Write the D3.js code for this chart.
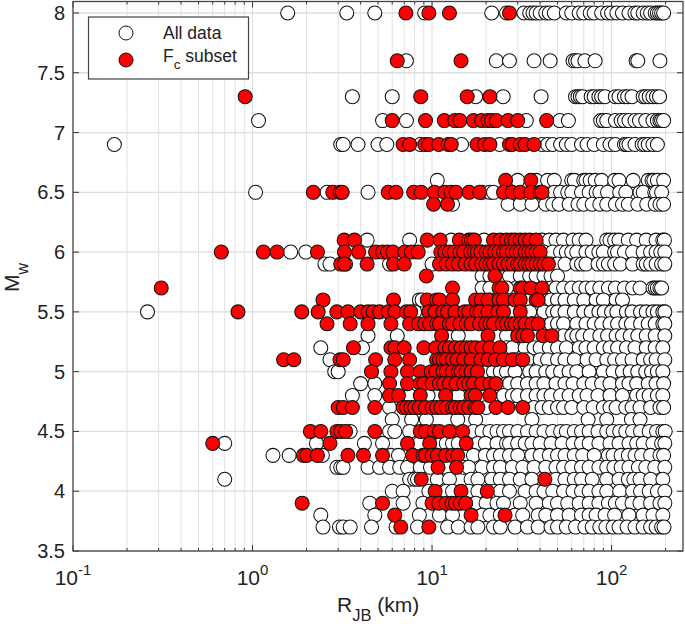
<!DOCTYPE html>
<html><head><meta charset="utf-8">
<script src="https://cdn.jsdelivr.net/npm/d3@7"></script>
<style>html,body{margin:0;padding:0;background:#fff}svg{display:block}text{font-family:"Liberation Sans",Arial,sans-serif;fill:#222}</style>
</head><body><svg id="c" width="685" height="624"></svg>
<script>
const magnitudes=[8,7.6,7.3,7.1,6.9,6.6,6.5,6.4,6.1,6,5.9,5.8,5.7,5.6,5.5,5.4,5.3,5.2,5.1,5,4.9,4.8,4.7,4.6,4.5,4.4,4.3,4.2,4.1,4,3.9,3.8,3.7];
const fcRjb=[
[7.15,9.6,12.5,27],
[6.4,14.5],
[.91,8.65,15.7,21],
[6,9.2,11.7,13.4,14.3,17,18.9,20.5,21.4,22.8,26.5,30,43.5],
[6.9,7.5,9.1,9.6,10.9,12.3,12.8,17.8,19.6,21,27,28,31,33,37],
[25.7,35.5],
[2.18,2.8,3.07,3.16,5.7,6.3,7.9,8.7,10.3,11.8,12.8,13.6,16.1,18.4,25,28,31,35.5,40,41],
[10.2,12.2],
[3.24,3.7,9.4,11.1,14.2,16,16.6,17.2,22,24,26,27.7,29,31,33,35,38],
[.67,1.15,1.37,2.3,3.25,3.9,4.85,5.3,5.65,6.05,7.05,7.67,8.37,11.2,11.8,12.5,13.3,14.3,15,16.4,17.2,17.9,18.7,20,21,22.3,23.5,25,26,28,29.5,31,33,34.5,36,38,40],
[3.1,3.25,4.35,6.1,7,11,12,13,14,15.3,16.5,17.5,18.9,20,21,22,23.6,25,26.5,28,30,31,33,34.5,36,38,40,42,44.5],
[9.3,22.4],
[.31,13,23.6,24.5,31,32,35.5,41],
[2.47,6.1,9.4,10.6,11,13,17.5,18.8,20.5,23.6,25,29,31,38,39],
[.83,1.88,2.32,2.95,3.4,4,4.4,4.7,5.1,5.7,6.2,7.2,7.6,9.6,10.4,11.5,12.2,13.4,15.2,16,17.7,18.5,20.5,23.3,25,31],
[2.6,3.5,4.4,5.9,7.5,8.4,9.1,9.7,10.6,11,12.5,13,14.3,15.5,16.5,18.4,19.9,21,22,24.6,26,27.7,29,31,33,36,39],
[11.3,20.5,30,32,34,41.5,46.5],
[3.65,5.9,6.2,7,9,10.5,11.8,12.5,13.5,14.5,15.5,16.5,17.5,19,21,23.9],
[1.49,1.7,3.07,3.2,4.85,6.2,7.5,10.6,11,11.5,12,13,13.8,15,16.5,18.7,20.5,22.6,25,28,32],
[4.6,5.9,7.3,8.6,9.9,10.5,11.5,12,13,14,14.5,15.5,16.5,17.9],
[5.8,7.3,8.6,9,10,11,11.6,12.5,13.6,15,16,17,18.9,21,22.7],
[5.8,6.5,8.6,11.9,16.5,17.4,21],
[3,3.2,3.6,4.8,6.9,7.2,7.6,8,8.5,9.2,10,10.6,11.2,12,13,13.5,14.3,15,16,17.4,18,22.7,26.5,32],
[],
[2.1,2.4,2.95,3.1,3.3,4.8,8.6,9.2,10.3,11,12.5,14.8],
[.6,2.7,7.3,9.7,15.5],
[1.92,2,2.3,3.4,4.15,5.3,7.8,8.9,9.2,10,10.7,11.9,13,13.9],
[10.8,13.7],
[8.7,42.5],
[10.4,14.5,20.3],
[1.89,5.3,10,10.9,12,12.9,13.5,14.4,15.4],
[6.2,16.5,25.5],
[6.7,9.6]
];
const otherRjb=[
[1.57,3.35,4.8,9.1,21.5,26,32.5,35,36.5,38,40,43,45,48,56,60,66,70,76,80,88,95,100,107,115,125,135,140,150,158,165,175,180,185,190,195],
[7.2,22.8,27,37,45.5,61,63,65,71,81,137,140,186],
[3.6,6,17.5,24.9,40.5,63,65,67,69,77,80,85,88,92,105,110,118,123,130,150,155,162,170,178,185],
[1.08,5.3,7.2,33.5,51.5,57.5,87,90,94,105,113,118,125,135,143,155,170,180,186,190,195],
[.17,3.1,3.2,3.87,5,5.6,8.6,14.6,23.8,41,44,47,52,56,60,68,73,80,90,98,105,118,121,125,135,148,153,160,170,180],
[10.7,30,38,44,48,60,62,70,72,76,81,88,104,110,132,160,168,172,180,195],
[1.04,2.6,4.4,19,21,22,48,52,57,60,68,75,82,86,95,111,120,144,150,174,178,190],
[13,26.5,31,36,43,47,51,58,65,70,78,86,94,105,115,124,140,157,175,186,195],
[4.35,7.5,12.8,19.5,41,45,49,54,61,66,72,94,98,104,110,124,138,156,177,193,197],
[1.63,1.98,19,42,47,52,56,60,64,72,78,85,90,104,108,118,131,150,165,177,188,198],
[2.53,2.7,3.3,5.8,10,46,50,55,64,68,72,84,90,96,104,112,131,150,156,165,177,190,198],
[19,21,24,27,31,35,38,42,46,50],
[19,21,26,46,49,54,60,66,72,78,86,96,105,118,131,144,170,175,180,186,190],
[8.5,8.8,21,26,35,42,46,50,55,62,70,82,90,106,115],
[.26,8,27.5,35,42,47,50,55,62,70,77,85,91,100,107,121,130,145,156,170,180,193,198],
[33,36,46,50,54,64,72,80,88,98,108,120,129,145,160,175,193,198],
[4.4,6.4,14,26,38,50,54,60,64,69,76,86,95,106,115,127,140,156,175,198],
[2.4,4.1,26,28,33,37,40,45,50,56,66,72,80,90,98,108,121,135,156,175,193],
[2.7,16,17,20,29,34,40,44,50,55,62,73,82,94,104,115,130,150,165,177,198],
[2.87,3,20,22,24,26,29,35,38,43,47,52,58,64,75,90,102,115,127,140,155,167,180,193],
[4,4.8,26,27,30,34,38,42,49,55,61,70,78,88,98,115,125,138,160,177,195],
[3.6,4.8,7.5,9.5,14,23,25,28,30,34,38,42,46,52,58,66,73,84,98,115,138,150,162,180,193],
[5.8,20,37,41,45,50,54,60,70,79,90,98,106,120,130,144,165,186,195],
[6,7.7,9.3,13.9,17.5,36,74,94,129,144],
[3.5,5.8,6.2,7.5,17,19,21,23,25,27,30,34,38,42,47,52,56,62,68,75,84,94,102,111,120,131,145,162,178,193,199],
[.7,2.27,4.2,5.3,8.5,10.5,11.3,12,13,14,18,19.8,23,26,27,30,33,36,40,46,53,61,68,75,85,98,110,125,138,150,170,190,198],
[1.3,1.6,2.45,5.9,6.5,15.5,17,19.8,22,24,27,30,36,40,45,50,55,62,69,80,96,102,113,124,135,147,165,186,195],
[2.95,3.1,3.2,4.4,5.1,5.8,6.6,7.3,8.6,9.8,12,15,16,19,22,24,28,32,37,43,49,54,60,68,75,85,94,103,113,125,141,155,174,198],
[.7,7.5,8,8.3,10.7,12.5,16.5,18,21.5,24,27,31,36,49,55,62,68,78,94,110,124,133,144,165,193],
[6,6.9,9.6,12,13,16,18,22,24,27,33,38,42,47,54,61,68,75,85,94,111,131,145,162,180,198],
[4.5,6.9,8.9,14,17.5,20,23,25,31,38,45,50,57,66,75,85,96,105,115,130,144,165,186,198],
[2.4,4.8,8.5,11,13,19,21,24,29,32,39,43,50,58,68,75,82,92,104,125,150,170,193],
[2.47,3.05,3.2,3.5,4.6,6.3,8.3,12.2,14,16.5,18,22,24,29,34,39,46,50,56,63,71,78,86,93,102,110,122,135,150,165,177,190,196]
];
const yTickValues=[3.5,4,4.5,5,5.5,6,6.5,7,7.5,8];
const xDecades=[0.1,1,10,100];
const legendLabels=["All data","F","c"," subset"];

const L=73,R=683,T=1.5,B=551;
const x=d3.scaleLog().domain([0.1,250]).range([L,R]);
const y=d3.scaleLinear().domain([3.5,8.096]).range([B,T]);
const svg=d3.select("#c");
const xMinor=x.ticks().filter(t=>!xDecades.some(d=>Math.abs(d-t)<1e-9));

svg.append("g").selectAll("line").data(xMinor).join("line")
 .attr("x1",x).attr("x2",x).attr("y1",T).attr("y2",B)
 .attr("stroke","#c4c4c4").attr("stroke-width",1).attr("stroke-dasharray","1 1");
svg.append("g").selectAll("line").data(xDecades.slice(1)).join("line")
 .attr("x1",x).attr("x2",x).attr("y1",T).attr("y2",B)
 .attr("stroke","#dcdcdc").attr("stroke-width",1);
svg.append("g").selectAll("line").data(yTickValues).join("line")
 .attr("x1",L).attr("x2",R).attr("y1",y).attr("y2",y)
 .attr("stroke","#dedede").attr("stroke-width",1.3);

const rows=magnitudes.map((m,i)=>({m,i}));
const draw=(src,fill)=>svg.append("g").selectAll("g").data(rows).join("g")
 .selectAll("circle").data(r=>src[r.i].map(v=>({v,m:r.m}))).join("circle")
 .attr("cx",d=>x(d.v)).attr("cy",d=>y(d.m)).attr("r",7)
 .attr("fill",fill).attr("stroke","#111").attr("stroke-width",1.05);
draw(otherRjb,"#fff");
draw(fcRjb,"#f00");

const fr=svg.append("g");
const tick=(g,a,b,c,d)=>g.append("line").attr("x1",a).attr("y1",b).attr("x2",c).attr("y2",d).attr("stroke","#333").attr("stroke-width",1);
x.ticks().forEach(t=>{const major=xDecades.some(d=>Math.abs(d-t)<1e-9),l=major?6:3,p=x(t);tick(fr,p,B,p,B-l);tick(fr,p,T,p,T+l);});
yTickValues.forEach(t=>{const p=y(t);tick(fr,L,p,L+6,p);tick(fr,R,p,R-6,p);});
fr.append("rect").attr("x",L).attr("y",T).attr("width",R-L).attr("height",B-T).attr("fill","none").attr("stroke","#444").attr("stroke-width",1.3);

svg.append("g").selectAll("text").data(yTickValues).join("text")
 .attr("x",65).attr("y",d=>y(d)+7).attr("text-anchor","end").attr("font-size",20).text(d=>d);
xDecades.forEach((d,i)=>{
 const t=svg.append("text").attr("x",x(d)).attr("y",585).attr("font-size",21).attr("text-anchor","middle");
 t.append("tspan").text("10");
 t.append("tspan").attr("font-size",15).attr("dy",-10).text(String(i-1));
});

const xl=svg.append("text").attr("x",337).attr("y",612).attr("font-size",21);
xl.append("tspan").text("R");
xl.append("tspan").attr("font-size",16.5).attr("dy",9).text("JB");
xl.append("tspan").attr("dy",-9).text(" (km)");
const yl=svg.append("text").attr("transform","translate(19,292) rotate(-90)").attr("font-size",21);
yl.append("tspan").text("M");
yl.append("tspan").attr("font-size",16).attr("dy",9).text("w");

const lg=svg.append("g");
lg.append("rect").attr("x",88.5).attr("y",17).attr("width",160).attr("height",62).attr("fill","#fff").attr("stroke","#444").attr("stroke-width",1.2);
lg.append("circle").attr("cx",126).attr("cy",33).attr("r",7).attr("fill","#fff").attr("stroke","#111");
lg.append("circle").attr("cx",126).attr("cy",60).attr("r",7).attr("fill","#f00").attr("stroke","#111");
lg.append("text").attr("x",163).attr("y",39).attr("font-size",17.5).text(legendLabels[0]);
const ft=lg.append("text").attr("x",163).attr("y",62).attr("font-size",17.5);
ft.append("tspan").text(legendLabels[1]);
ft.append("tspan").attr("font-size",13.5).attr("dy",7).text(legendLabels[2]);
ft.append("tspan").attr("dy",-7).attr("font-size",17.5).text(legendLabels[3]);
</script></body></html>
